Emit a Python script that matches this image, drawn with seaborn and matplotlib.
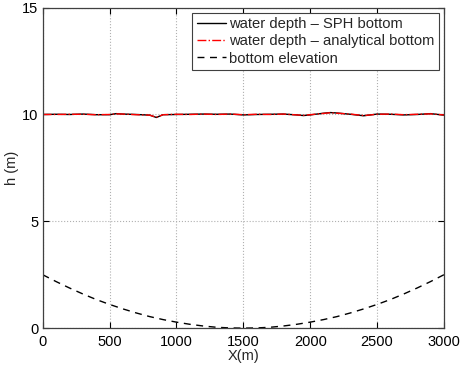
import pandas as pd
import seaborn as sns
import matplotlib
matplotlib.use('Agg')
import matplotlib.pyplot as plt

# water depth (m)
x_depth = [0, 100, 200, 300, 400, 500, 550, 600, 700, 800, 850, 900, 1000, 1100, 1200,
           1300, 1400, 1500, 1600, 1700, 1800, 1900, 1950, 2000, 2100, 2150, 2200, 2300,
           2400, 2500, 2600, 2700, 2800, 2900, 3000]
depth_sph = [10.00, 10.01, 10.00, 10.02, 9.99, 9.99, 10.04, 10.02, 10.00, 9.97, 9.86, 9.99,
             10.00, 10.01, 10.02, 10.01, 10.02, 9.98, 10.00, 10.01, 10.02, 9.98, 9.95, 9.98,
             10.06, 10.09, 10.07, 10.01, 9.94, 10.02, 10.01, 9.98, 10.00, 10.04, 9.97]
depth_analytical = [10.00, 10.00, 10.01, 10.01, 9.99, 10.00, 10.03, 10.02, 9.99, 9.97, 9.87, 9.99,
                    10.01, 10.00, 10.02, 10.00, 10.02, 9.99, 10.01, 10.00, 10.02, 9.98, 9.96, 9.99,
                    10.05, 10.08, 10.06, 10.02, 9.95, 10.01, 10.02, 9.99, 10.01, 10.03, 9.98]

# bottom elevation (m)
x_bottom = [0, 100, 200, 300, 400, 500, 600, 700, 800, 900, 1000, 1100, 1200, 1300, 1400, 1500,
            1600, 1700, 1800, 1900, 2000, 2100, 2200, 2300, 2400, 2500, 2600, 2700, 2800, 2900, 3000]
bottom = [2.50, 2.18, 1.88, 1.60, 1.34, 1.11, 0.90, 0.71, 0.54, 0.40, 0.28, 0.18, 0.10, 0.04,
          0.01, 0.00, 0.01, 0.04, 0.10, 0.18, 0.28, 0.40, 0.54, 0.71, 0.90, 1.11, 1.34, 1.60,
          1.88, 2.18, 2.50]

sns.set_style('white')
plt.rcParams['font.family'] = ['Liberation Sans', 'DejaVu Sans']

fig = plt.figure(figsize=(4.61, 3.65), dpi=100)
ax = fig.add_axes([0.0926, 0.101, 0.8704, 0.878])

sph = pd.DataFrame({'x': x_depth, 'h': depth_sph})
ana = pd.DataFrame({'x': x_depth, 'h': depth_analytical})
bot = pd.DataFrame({'x': x_bottom, 'h': bottom})

sns.lineplot(data=sph, x='x', y='h', ax=ax, color='black', lw=1.0,
             label='water depth \u2013 SPH bottom')
sns.lineplot(data=ana, x='x', y='h', ax=ax, color='red', lw=1.0, linestyle='-.',
             label='water depth \u2013 analytical bottom')
sns.lineplot(data=bot, x='x', y='h', ax=ax, color='black', lw=1.0, linestyle=(0, (5, 4)),
             label='bottom elevation')

ax.set_xlim(0, 3000)
ax.set_ylim(0, 15)
ax.set_xticks([0, 500, 1000, 1500, 2000, 2500, 3000])
ax.set_yticks([0, 5, 10, 15])
ax.grid(True, linestyle=':', color='#b0b0b0', lw=0.8)
ax.tick_params(direction='in', length=4, labelsize=10.5, colors='black',
               top=True, right=True, bottom=True, left=True)
ax.tick_params(axis='x', pad=5)
ax.tick_params(axis='y', pad=3)
for s in ax.spines.values():
    s.set_color('#404040')
    s.set_linewidth(0.9)
ax.set_xlabel('X(m)', fontsize=10.5, labelpad=0)
ax.set_ylabel('h (m)', fontsize=10.5)
ax.yaxis.set_label_coords(-0.06, 0.5)

leg = ax.legend(loc='upper right', fontsize=10.6, frameon=True, fancybox=False,
                edgecolor='#404040', framealpha=1, borderpad=0.3, labelspacing=0.22,
                handlelength=2.0, handletextpad=0.2, borderaxespad=0.34)
leg.get_frame().set_linewidth(0.8)

plt.savefig('out.png', dpi=100)
plt.close()
